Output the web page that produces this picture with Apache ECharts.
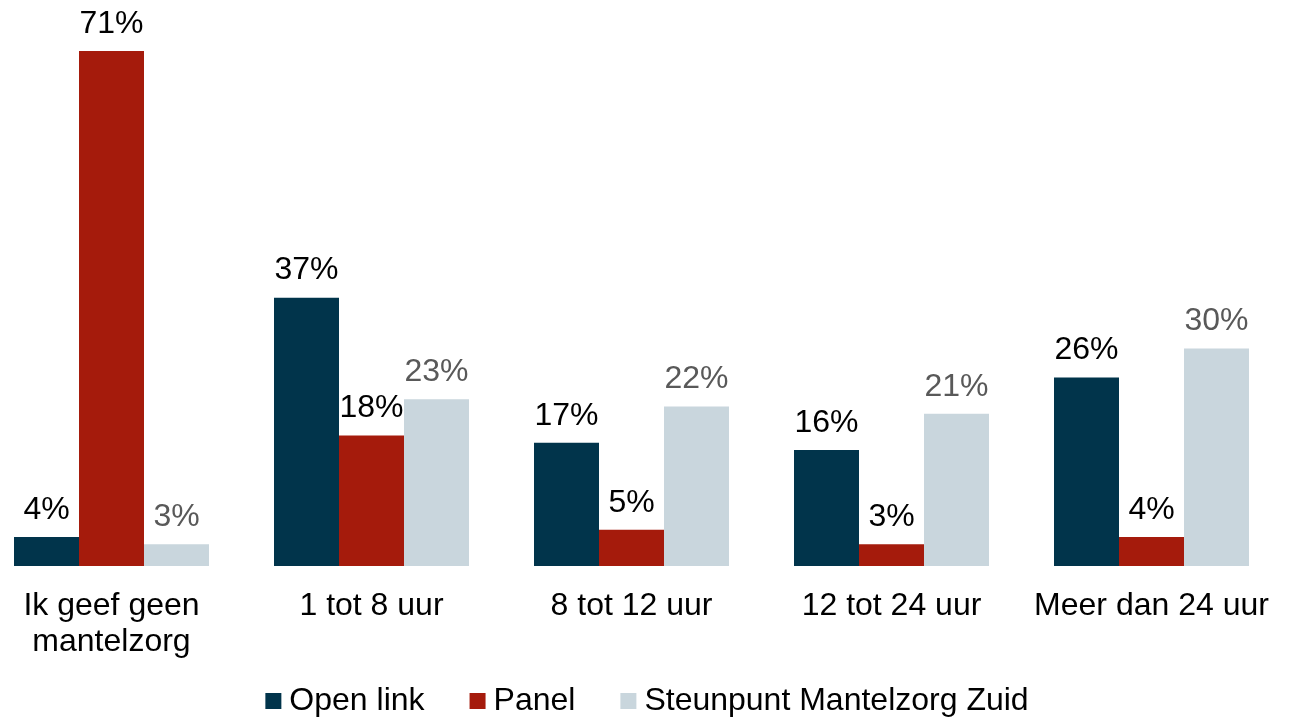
<!DOCTYPE html>
<html lang="nl">
<head>
  <meta charset="UTF-8">
  <title>Mantelzorg uren</title>
  <script src="https://cdn.jsdelivr.net/npm/echarts@6.0.0/dist/echarts.min.js"></script>
  <style>
    html, body { margin: 0; padding: 0; background: #fff; }
  </style>
</head>
<body>
<div id="chart" style="width: 1294px; height: 717px"></div>
<script>
  const categories = ['Ik geef geen\nmantelzorg', '1 tot 8 uur', '8 tot 12 uur', '12 tot 24 uur', 'Meer dan 24 uur'];
  const openLink = [4, 37, 17, 16, 26];
  const panel = [71, 18, 5, 3, 4];
  const steunpunt = [3, 23, 22, 21, 30];

  const font = '"Liberation Sans", Arial, sans-serif';

  function barSeries(name, data, color, labelColor) {
    return {
      name: name,
      type: 'bar',
      data: data,
      barGap: 0,
      barCategoryGap: '25%',
      itemStyle: { color: color },
      label: {
        show: true,
        position: 'top',
        distance: 11,
        formatter: '{c}%',
        color: labelColor,
        fontSize: 32,
        fontFamily: font
      }
    };
  }

  const chart = echarts.init(document.getElementById('chart'));
  chart.setOption({
    animation: false,
    grid: { left: -18.5, width: 1300, top: 22, bottom: 151, outerBoundsMode: 'none', containLabel: false },
    legend: {
      top: 680,
      left: 'center',
      itemWidth: 16,
      itemHeight: 16,
      itemGap: 45,
      icon: 'rect',
      textStyle: { fontSize: 32, fontFamily: font, color: '#000', padding: [0, 0, 0, 3] }
    },
    xAxis: {
      type: 'category',
      data: categories,
      axisLine: { show: false },
      axisTick: { show: false },
      axisLabel: {
        color: '#000',
        fontSize: 32,
        fontFamily: font,
        lineHeight: 36,
        margin: 22,
        interval: 0
      }
    },
    yAxis: {
      type: 'value',
      min: 0,
      max: 75,
      show: false,
      splitLine: { show: false }
    },
    series: [
      barSeries('Open link', openLink, '#01344b', '#000'),
      barSeries('Panel', panel, '#a51b0c', '#000'),
      barSeries('Steunpunt Mantelzorg Zuid', steunpunt, '#c9d6dd', '#595959')
    ]
  });
</script>
</body>
</html>
